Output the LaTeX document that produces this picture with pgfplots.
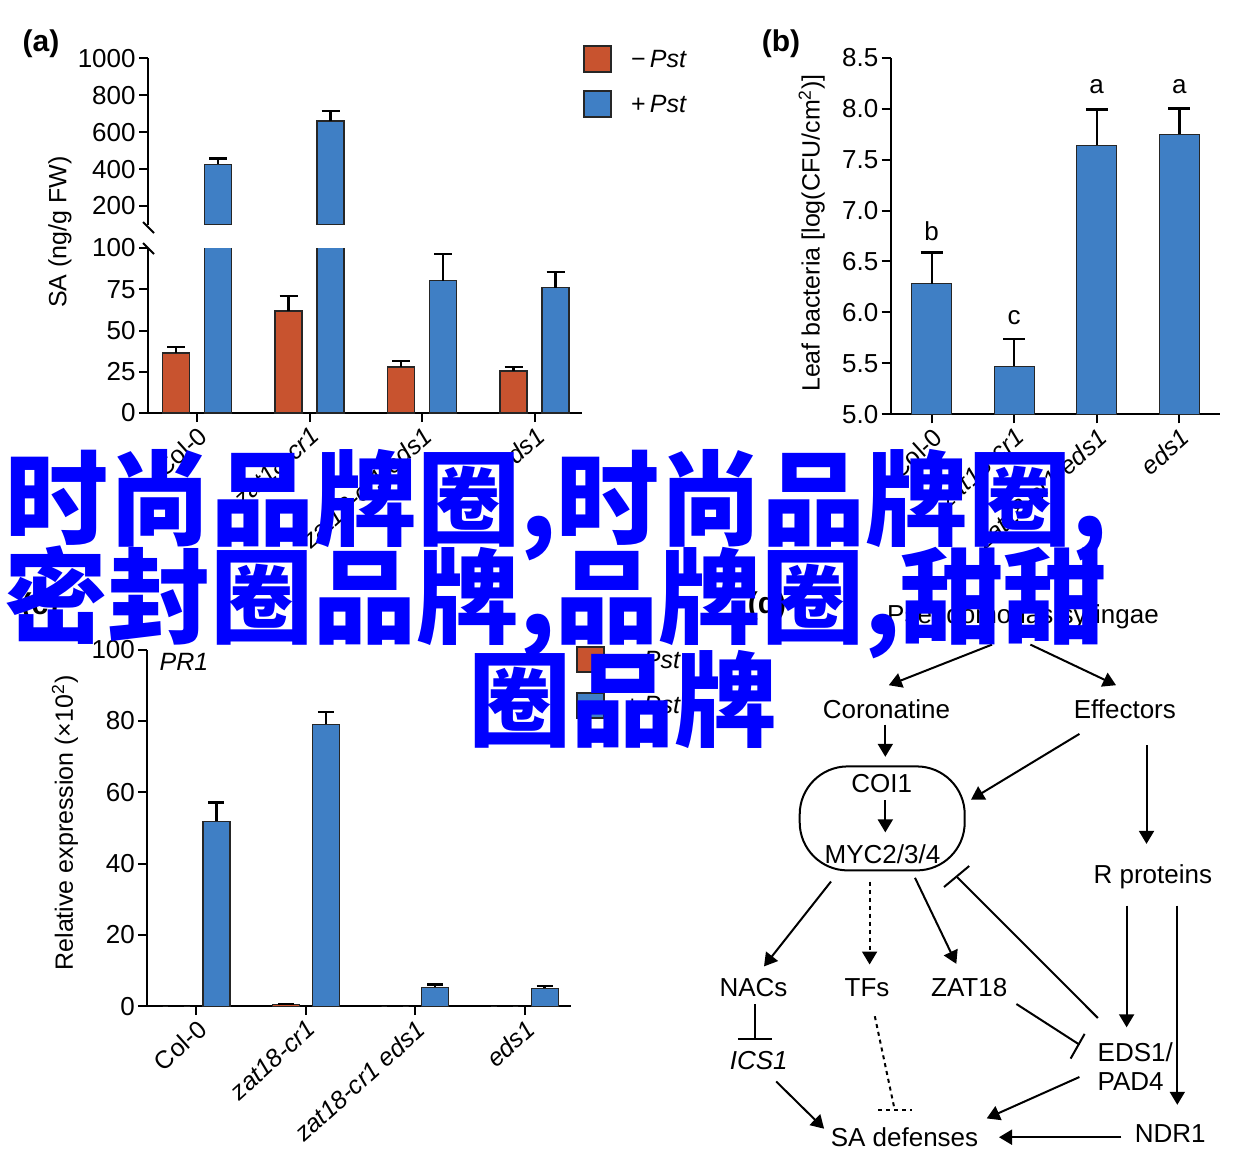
\documentclass[border=0pt]{standalone}
\usepackage{fontspec}
\setmainfont{Liberation Sans}
\newfontfamily\cjk{Noto Sans CJK SC}
\usepackage{pgfplots}
\pgfplotsset{compat=1.18}
\usetikzlibrary{arrows.meta}

\definecolor{cred}{HTML}{C8532F}
\definecolor{cblue}{HTML}{3F7FC5}
\definecolor{zh}{HTML}{0000FF}

\newcommand{\tf}{\fontsize{12.5}{15}\selectfont}
\newcommand{\kf}{\fontsize{13}{15}\selectfont}
\newcommand{\df}{\fontsize{13}{15}\selectfont}

\pgfplotsset{
  base/.style={
    scale only axis, enlargelimits=false, ybar,
    axis line style={line width=1pt, black},
    tick style={line width=1pt, black},
    major tick length=4.5pt,
    tick align=outside,
    ticklabel style={font=\kf},
    yticklabel style={inner sep=1.5pt},
    /pgf/number format/assume math mode=true,
    /pgf/number format/1000 sep={},
  },
  xlabs/.style={
    xtick={0,1,2,3},
    xticklabels={Col-0,{\itshape zat18-cr1},{\itshape zat18-cr1 eds1},{\itshape eds1}},
    xticklabel style={rotate=42, anchor=north east, inner sep=1pt, font=\tf},
  },
  eb/.style={
    error bars/y dir=plus, error bars/y explicit,
    error bars/error bar style={line width=1.2pt, black},
    error bars/error mark options={rotate=90, mark size=#1, line width=1.2pt, black},
  },
  rbar/.style={fill=cred, draw=black!85, line width=0.6pt},
  bbar/.style={fill=cblue, draw=black!85, line width=0.6pt},
}

\begin{document}
\begin{tikzpicture}[x=0.5pt,y=-0.5pt]
\useasboundingbox (0,0) rectangle (1245,1166);
\fill[white] (0,0) rectangle (1245,1166);

% ---------- (a) lower part
\begin{axis}[base, xlabs, at={(74pt,-206.5pt)}, anchor=south west,
  width=217pt, height=82.5pt,
  axis x line*=bottom, axis y line*=left,
  xmin=-0.4356, xmax=3.422, ymin=0, ymax=100,
  ytick={0,25,50,75,100}]
\addplot[rbar, bar width=13.5pt, bar shift=-10.5pt, eb=4.5pt] coordinates {
  (0,36.4) +- (0,3.6) (1,61.8) +- (0,9.1) (2,27.9) +- (0,3.6) (3,25.5) +- (0,2.4)};
\addplot[bbar, bar width=13.5pt, bar shift=10.5pt, eb=4.5pt] coordinates {
  (0,427) +- (0,31) (1,660) +- (0,55) (2,80.2) +- (0,16.2) (3,75.9) +- (0,9.6)};
\end{axis}

% ---------- (a) upper part (only the bars that reach above the break)
\begin{axis}[base, at={(74pt,-112.25pt)}, anchor=south west,
  width=217pt, height=83.1pt,
  axis x line=none, axis y line*=left,
  xmin=-0.4356, xmax=3.422, ymin=100, ymax=1000,
  xtick=\empty, ytick={200,400,600,800,1000}]
\addplot[bbar, bar width=13.5pt, bar shift=10.5pt, eb=4.5pt] coordinates {
  (0,427) +- (0,31) (1,660) +- (0,55)};
\end{axis}
\draw[line width=1pt] (143,222) -- (154,233);
\draw[line width=1pt] (143,243) -- (154,254);
\node[font=\bfseries\fontsize{15}{18}\selectfont] at (41,44) {(a)};
\node[rotate=90, font=\tf] at (60,232) {SA (ng/g FW)};
\draw[fill=cred, draw=black!85, line width=0.6pt] (584,46) rectangle (611,72);
\draw[fill=cblue, draw=black!85, line width=0.6pt] (584,91) rectangle (611,117);
\node[anchor=west, font=\tf] at (624,59) {−\,\textit{Pst}};
\node[anchor=west, font=\tf] at (624,104) {+\,\textit{Pst}};

% ---------- (b)
\begin{axis}[base, xlabs, at={(445.35pt,-207.15pt)}, anchor=south west,
  width=164.65pt, height=178.3pt,
  axis x line*=bottom, axis y line*=left,
  xmin=-0.497, xmax=3.493, ymin=5, ymax=8.5,
  ytick={5,5.5,...,8.5},
  yticklabel style={/pgf/number format/.cd, fixed, fixed zerofill, precision=1}]
\addplot[bbar, bar width=20pt, bar shift=0pt, eb=5.5pt] coordinates {
  (0,6.28) +- (0,0.31) (1,5.47) +- (0,0.27) (2,7.64) +- (0,0.35) (3,7.75) +- (0,0.25)};
\end{axis}
\node[font=\bfseries\fontsize{15}{18}\selectfont] at (781,44) {(b)};
\node[rotate=90, font=\tf] at (811.7,233) {Leaf bacteria [log(CFU/cm\textsuperscript{2})]};
\node[font=\df] at (931.7,231.7) {b};
\node[font=\df] at (1014,317.7) {c};
\node[font=\df] at (1096.7,86.7) {a};
\node[font=\df] at (1179.3,86.7) {a};

% ---------- (c)
\begin{axis}[base, xlabs, at={(73.65pt,-503.1pt)}, anchor=south west,
  width=211.85pt, height=178.3pt,
  axis x line*=bottom, axis y line*=left,
  xmin=-0.449, xmax=3.424, ymin=0, ymax=100,
  ytick={0,20,...,100}]
\addplot[rbar, bar width=13.5pt, bar shift=-10pt, eb=4pt] coordinates {
  (0,0) +- (0,0) (1,0.5) +- (0,0.2) (2,0) +- (0,0) (3,0) +- (0,0)};
\addplot[bbar, bar width=13.5pt, bar shift=10pt, eb=4pt] coordinates {
  (0,51.8) +- (0,5.3) (1,79.1) +- (0,3.4) (2,5.3) +- (0,0.8) (3,5.0) +- (0,0.7)};
\end{axis}
\node[font=\bfseries\fontsize{15}{18}\selectfont] at (40,607) {(c)};
\node[rotate=90, font=\tf] at (65,823) {Relative expression (×10\textsuperscript{2})};
\node[font=\tf\itshape] at (184,662) {PR1};
\draw[fill=cred, draw=black!85, line width=0.6pt] (577,647) rectangle (604,672);
\draw[fill=cblue, draw=black!85, line width=0.6pt] (577,693) rectangle (604,718);
\node[anchor=west, font=\tf] at (618,660) {−\,\textit{Pst}};
\node[anchor=west, font=\tf] at (618,705) {+\,\textit{Pst}};

% ---------- (d) diagram
\node[font=\bfseries\fontsize{15}{18}\selectfont] at (767,606) {(d)};
\begin{scope}[font=\df, line width=1pt,
  ar/.style={-{Triangle[length=6.5pt,width=7.5pt]}},
  dt/.style={dash pattern=on 2pt off 2pt}]
\node at (1023,616.6) {Pseudomonas syringae};
\node at (886.4,708.8) {Coronatine};
\node at (1124.8,708.8) {Effectors};
\node at (881.8,783.7) {COI1};
\node at (882.5,853.8) {MYC2/3/4};
\node at (1152.8,877) {R proteins};
\node at (753.5,987.8) {NACs};
\node at (867,987.8) {TFs};
\node at (969.2,987.8) {ZAT18};
\node[font=\df\itshape] at (758.7,1060.5) {ICS1};
\node[anchor=west] at (1090,1052) {EDS1/};
\node[anchor=west] at (1090,1081.5) {PAD4};
\node at (904.5,1136.9) {SA defenses};
\node at (1170.3,1133.2) {NDR1};
\draw[rounded corners=24pt] (799.7,766.4) rectangle (964.7,870.4);
\draw[ar] (992,644.6) -- (888.8,685.2);
\draw[ar] (1030.4,644.6) -- (1116,685.2);
\draw[ar] (885.3,724.7) -- (885.3,756.8);
\draw[ar] (1079.4,733.9) -- (971,799.6);
\draw[ar] (1146.5,745) -- (1146.5,843.9);
\draw[ar] (885.3,800.3) -- (885.3,832.4);
\draw[ar] (831,881.5) -- (764,966.4);
\draw[ar,dt] (869.6,881.5) -- (869.6,964.5);
\draw[ar] (915,877.8) -- (956.3,963.8);
\draw[ar] (1126.6,905.5) -- (1126.6,1027.3);
\draw[ar] (1177.3,905.5) -- (1177.3,1104.8);
\draw[ar] (1079.4,1077) -- (986.7,1118.4);
\draw[ar] (776.2,1081.5) -- (824.1,1128.7);
\draw[ar] (1121.3,1137.2) -- (999,1137.2);
\draw (1097.9,1018) -- (957,877);
\draw (944,887) -- (969.2,866);
\draw (754.9,1004) -- (754.9,1039);
\draw (737.8,1039) -- (771.7,1039);
\draw (1016.4,1004) -- (1079.4,1044.6);
\draw (1070.6,1058.6) -- (1084.6,1033.9);
\draw[dt] (874.8,1016.2) -- (894,1106.6);
\draw[dt] (878.3,1110.3) -- (911.5,1110.3);
\end{scope}

% ---------- overlay text
\begin{scope}[every node/.style={anchor=base west, inner sep=0pt, text=zh,
  font=\cjk\bfseries\fontsize{51.5}{52}\selectfont}]
\node at (5,537) {时尚品牌圈,时尚品牌圈,};
\node at (4,635) {密封圈品牌,品牌圈,甜甜};
\node at (468,738) {圈品牌};
\end{scope}
\end{tikzpicture}
\end{document}
